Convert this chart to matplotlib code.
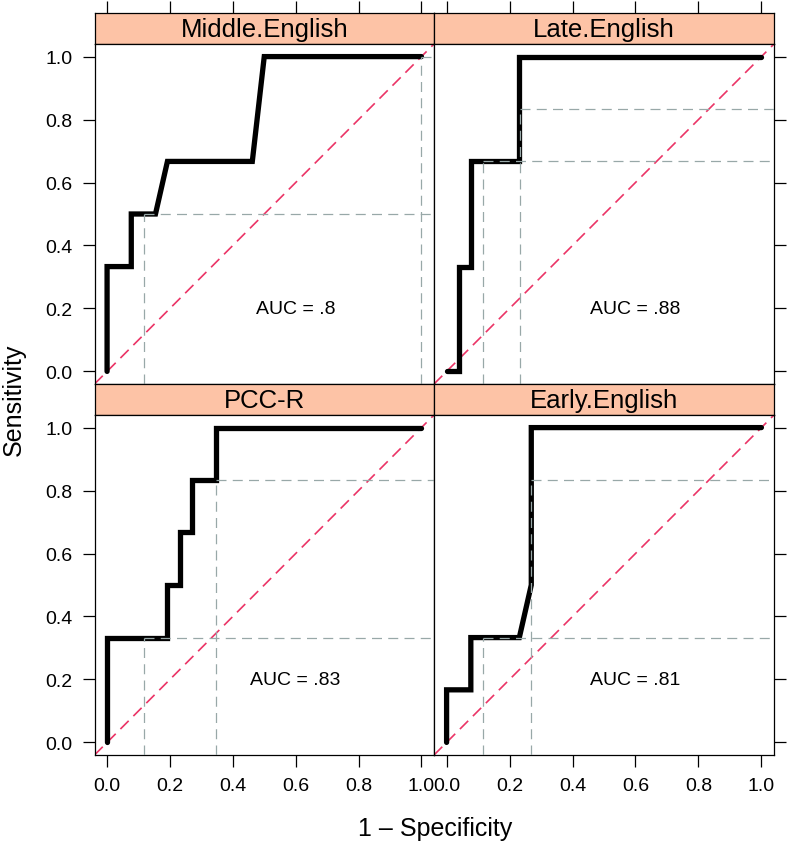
import matplotlib
matplotlib.use('Agg')
import matplotlib.pyplot as plt

plt.rcParams['font.family'] = ['Liberation Sans', 'DejaVu Sans']

# panel order: top-left, top-right, bottom-left, bottom-right
panels = ['Middle.English', 'Late.English', 'PCC-R', 'Early.English']
auc_labels = ['AUC = .8', 'AUC = .88', 'AUC = .83', 'AUC = .81']

# ROC curves (1 - specificity, sensitivity)
me_fpr = [0, 0, 0.077, 0.077, 0.154, 0.192, 0.462, 0.5, 1.0]
me_tpr = [0, 0.333, 0.333, 0.5, 0.5, 0.667, 0.667, 1.0, 1.0]
le_fpr = [0, 0.0385, 0.0385, 0.077, 0.077, 0.231, 0.231, 1.0]
le_tpr = [0, 0, 0.333, 0.333, 0.667, 0.667, 1.0, 1.0]
pcc_fpr = [0, 0, 0.192, 0.192, 0.231, 0.231, 0.269, 0.269, 0.346, 0.346, 1.0]
pcc_tpr = [0, 0.333, 0.333, 0.5, 0.5, 0.667, 0.667, 0.833, 0.833, 1.0, 1.0]
ee_fpr = [0, 0, 0.077, 0.077, 0.231, 0.269, 0.269, 1.0]
ee_tpr = [0, 0.167, 0.167, 0.333, 0.333, 0.5, 1.0, 1.0]

# cutoff points marked with grey dashed guides
me_cut_x = [0.116, 1.0]
me_cut_y = [0.5, 1.0]
le_cut_x = [0.116, 0.232]
le_cut_y = [0.667, 0.833]
pcc_cut_x = [0.116, 0.346]
pcc_cut_y = [0.333, 0.833]
ee_cut_x = [0.116, 0.269]
ee_cut_y = [0.333, 0.833]

curves = [(me_fpr, me_tpr), (le_fpr, le_tpr), (pcc_fpr, pcc_tpr), (ee_fpr, ee_tpr)]
cuts = [(me_cut_x, me_cut_y), (le_cut_x, le_cut_y), (pcc_cut_x, pcc_cut_y), (ee_cut_x, ee_cut_y)]

ticks = [0.0, 0.2, 0.4, 0.6, 0.8, 1.0]
tick_labels = ['0.0', '0.2', '0.4', '0.6', '0.8', '1.0']

W, H = 791, 845
fig = plt.figure(figsize=(W / 100, H / 100), dpi=100)

def box(x0, y0, x1, y1):
  # pixel box (top-left origin) -> figure fraction
  return [x0 / W, 1 - y1 / H, (x1 - x0) / W, (y1 - y0) / H]

xs = [(94.5, 434), (434, 774)]
rows = [(14, 45, 385), (385, 416, 756)]
strip_col = '#FDC3A6'
red = '#EB3466'
grey = '#98A8A8'
lo, hi = -0.04, 1.04

for i, name in enumerate(panels):
  r, c = divmod(i, 2)
  x0, x1 = xs[c]
  st, pt, pb = rows[r]

  sax = fig.add_axes(box(x0, st, x1, pt))
  sax.set_facecolor(strip_col)
  sax.set_xticks([]); sax.set_yticks([])
  for s in sax.spines.values():
    s.set_linewidth(0.9)
  sax.text(0.5, 0.47, name, ha='center', va='center', fontsize=18.5, transform=sax.transAxes)

  ax = fig.add_axes(box(x0, pt, x1, pb))
  ax.set_xlim(lo, hi)
  ax.set_ylim(lo, hi)
  for s in ax.spines.values():
    s.set_linewidth(0.9)

  ax.plot([lo, hi], [lo, hi], color=red, lw=1.2, dashes=(7, 4), zorder=2)
  cx, cy = cuts[i]
  for px, py in zip(cx, cy):
    ax.plot([px, px], [lo, py], color=grey, lw=0.9, dashes=(8, 5), zorder=4)
    ax.plot([px, hi], [py, py], color=grey, lw=0.9, dashes=(8, 5), zorder=4)
  fx, ty = curves[i]
  ax.plot(fx, ty, color='black', lw=3.8, solid_joinstyle='miter', solid_capstyle='round', zorder=3)
  ax.text(0.6, 0.2, auc_labels[i], ha='center', va='center', fontsize=14)

  ax.set_xticks(ticks)
  ax.set_yticks(ticks)
  ax.tick_params(direction='out', length=8.5, width=0.9, labelsize=14, pad=7.5)
  ax.tick_params(axis='x', top=False, bottom=(r == 1), labelbottom=(r == 1))
  ax.tick_params(axis='y', left=(c == 0), labelleft=(c == 0), right=(c == 1), labelright=False)
  if r == 1:
    ax.set_xticklabels(tick_labels)
  if c == 0:
    ax.set_yticklabels(tick_labels)
  if r == 0:
    # ticks on top of the strip, as in the lattice layout
    sax.set_xlim(lo, hi)
    sax.set_xticks(ticks)
    sax.tick_params(axis='x', top=True, bottom=False, labeltop=False, labelbottom=False,
                    direction='out', length=8.5, width=0.9)

fig.text(435 / W, 1 - 829 / H, '1 \u2013 Specificity', ha='center', va='center', fontsize=18)
fig.text(14 / W, 1 - 400 / H, 'Sensitivity', ha='center', va='center', fontsize=18, rotation=90)

fig.savefig('out.png', dpi=100)
